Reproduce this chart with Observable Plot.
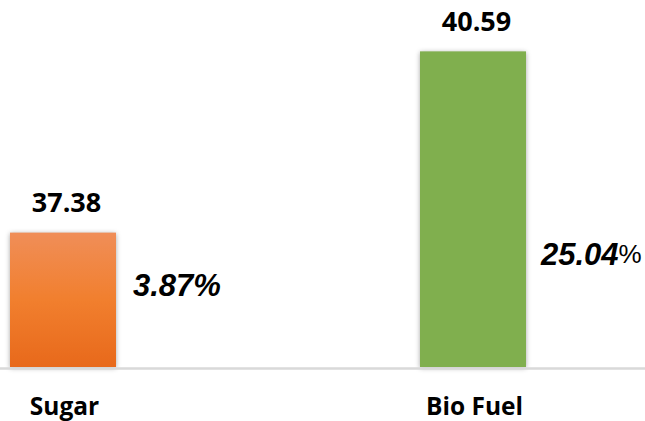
<!DOCTYPE html>
<html>
<head>
<meta charset="utf-8">
<script src="https://cdn.jsdelivr.net/npm/d3@7"></script>
<script src="https://cdn.jsdelivr.net/npm/@observablehq/plot@0.6"></script>
<style>
  html, body { margin: 0; padding: 0; background: #fff; }
  #chart svg { display: block; }
  .bar rect { filter: drop-shadow(0 1px 2.5px rgba(0,0,0,0.35)); }
</style>
</head>
<body>
<div id="chart"></div>
<script>
// Price index by commodity and year-on-year change
const categories = ["Sugar", "Bio Fuel"];
const values = [37.38, 40.59];
const changes = ["3.87", "25.04"];
const baseValue = 35;

const data = categories.map((c, i) => ({ cat: c, value: values[i], change: changes[i] }));

const W = 645, H = 421;
const labelFont = "'Open Sans', Lato, sans-serif";

const chart = Plot.plot({
  width: W,
  height: H,
  marginTop: 0,
  marginBottom: 54,
  marginLeft: 0,
  marginRight: 0,
  style: { background: "#fff", overflow: "visible" },
  x: { domain: categories, paddingInner: 0.742, paddingOuter: 0.1557, align: 0.078, axis: null },
  y: { domain: [baseValue, 41.5], axis: null },
  color: { domain: categories, range: ["url(#sugarFill)", "#80AF4E"] },
  marks: [
    Plot.rectY(data, { x: "cat", y1: baseValue, y2: "value", fill: "cat", className: "bar" }),
    Plot.ruleY([baseValue], { stroke: "#d9d9d9", strokeWidth: 2.5, dy: 1 }),
    // value above each bar
    Plot.text(data, {
      x: "cat", y: "value", text: d => d.value.toFixed(2),
      dy: -30, dx: 3, fontSize: 27, fontWeight: "bold", fill: "#000",
      fontFamily: labelFont
    }),
    // category labels under the axis line
    Plot.text(data, {
      x: "cat", y: baseValue, text: "cat",
      dy: 40, dx: 1, fontSize: 24.5, fontWeight: "bold", fill: "#000",
      fontFamily: labelFont
    })
  ]
});

// Gradient for the orange bar
const svg = d3.select(chart);
const defs = svg.insert("defs", ":first-child");
const grad = defs.append("linearGradient")
  .attr("id", "sugarFill").attr("x1", 0).attr("y1", 0).attr("x2", 0).attr("y2", 1);
grad.append("stop").attr("offset", "0%").attr("stop-color", "#F08E58");
grad.append("stop").attr("offset", "50%").attr("stop-color", "#F17F2E");
grad.append("stop").attr("offset", "100%").attr("stop-color", "#E8691B");

document.getElementById("chart").appendChild(chart);

// Percentage change labels beside the bars
const xs = chart.scale("x"), ys = chart.scale("y");
const pctOffsets = [{ dx: 17, dy: -15 }, { dx: 15, dy: 45 }];
data.forEach((d, i) => {
  const xRight = xs.apply(d.cat) + xs.bandwidth;
  const yMid = (ys.apply(baseValue) + ys.apply(d.value)) / 2;
  const t = svg.append("text")
    .attr("x", xRight + pctOffsets[i].dx)
    .attr("y", yMid + pctOffsets[i].dy)
    .attr("text-anchor", "start")
    .attr("dominant-baseline", "central")
    .attr("font-family", "'Liberation Sans', Arial, sans-serif")
    .attr("fill", "#000");
  t.append("tspan").attr("font-weight", "bold").attr("font-style", "italic")
    .attr("font-size", 31).text(d.change);
  const pct = t.append("tspan").text("%");
  if (i === 0) pct.attr("font-weight", "bold").attr("font-style", "italic").attr("font-size", 31);
  else pct.attr("font-size", 26);
});
</script>
</body>
</html>
